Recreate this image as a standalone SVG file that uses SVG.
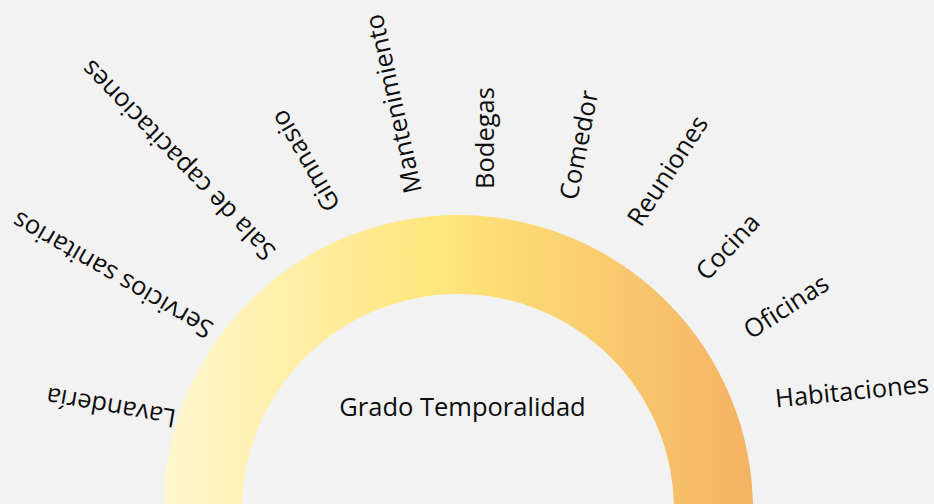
<svg xmlns="http://www.w3.org/2000/svg" width="934" height="504" viewBox="0 0 934 504">
<defs>
<linearGradient id="ringGrad" gradientUnits="userSpaceOnUse" x1="163" y1="0" x2="753" y2="0">
<stop offset="0" stop-color="#FFF7CF"/>
<stop offset="0.47" stop-color="#FFE67A"/>
<stop offset="1" stop-color="#F4B265"/>
</linearGradient>
<style>
text{font-family:"Open Sans","Noto Sans","Liberation Sans",sans-serif;font-size:25.5px;fill:#0d0d0d}
.lbl{text-anchor:start}
</style>
</defs>
<rect x="0" y="0" width="934" height="504" fill="#F2F2F2"/>
<g id="ring">
<path d="M163 510 A295 295 0 0 1 753 510 L674 510 A216 216 0 0 0 242 510 Z" fill="url(#ringGrad)"/>
<text x="462.5" y="416" text-anchor="middle">Grado Temporalidad</text>
</g>
<g id="connectors"/>
<g id="lavanderia"><text class="lbl" transform="translate(177 410) rotate(190)">Lavandería</text></g>
<g id="servicios-sanitarios"><text class="lbl" transform="translate(215 324) rotate(210)">Servicios sanitarios</text></g>
<g id="sala-capacitaciones"><text class="lbl" transform="translate(277 250) rotate(226)">Sala de capacitaciones</text></g>
<g id="gimnasio"><text class="lbl" transform="translate(341 205) rotate(-120)">Gimnasio</text></g>
<g id="mantenimiento"><text class="lbl" transform="translate(422 191) rotate(-102.6)">Mantenimiento</text></g>
<g id="bodegas"><text class="lbl" transform="translate(494 189) rotate(-90)">Bodegas</text></g>
<g id="comedor"><text class="lbl" transform="translate(577 201) rotate(-79)">Comedor</text></g>
<g id="reuniones"><text class="lbl" transform="translate(641 228) rotate(-57)">Reuniones</text></g>
<g id="cocina"><text class="lbl" transform="translate(707 282) rotate(-47)">Cocina</text></g>
<g id="oficinas"><text class="lbl" transform="translate(751 340) rotate(-33)">Oficinas</text></g>
<g id="habitaciones"><text class="lbl" transform="translate(776 407.5) rotate(-5.6)">Habitaciones</text></g>
</svg>
